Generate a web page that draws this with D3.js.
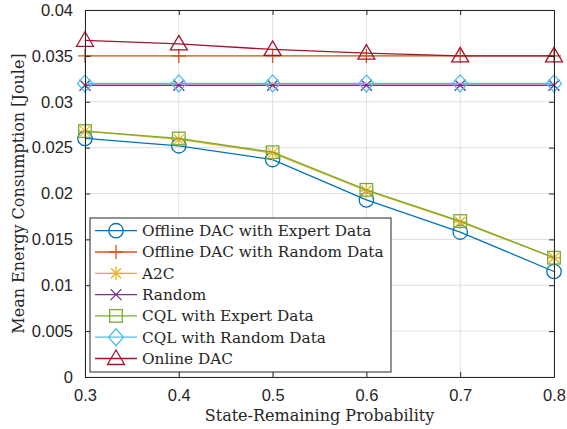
<!DOCTYPE html>
<html>
<head>
<meta charset="utf-8">
<script src="https://cdn.jsdelivr.net/npm/d3@7"></script>
<style>
  html, body { margin: 0; padding: 0; background: #fff; }
  svg { display: block; }
</style>
</head>
<body>
<svg id="chart" width="567" height="429"></svg>
<script>
// State-remaining probability on the x axis
const probs = [0.3, 0.4, 0.5, 0.6, 0.7, 0.8];

// Mean energy consumption (Joule) per method
const offlineDacExpert = [0.0260, 0.0252, 0.0237, 0.0193, 0.0158, 0.0115];
const offlineDacRandom = [0.0350, 0.0350, 0.0350, 0.0350, 0.0350, 0.0350];
const a2c              = [0.0268, 0.0259, 0.0244, 0.0203, 0.0169, 0.0130];
const randomPolicy     = [0.0318, 0.0318, 0.0318, 0.0318, 0.0318, 0.0318];
const cqlExpert        = [0.0268, 0.0260, 0.0245, 0.0204, 0.0170, 0.0130];
const cqlRandom        = [0.0320, 0.0320, 0.0320, 0.0320, 0.0320, 0.0320];
const onlineDac        = [0.0367, 0.0363, 0.0357, 0.0353, 0.0350, 0.0350];

const xTicks = [0.3, 0.4, 0.5, 0.6, 0.7, 0.8];
const yTicks = [0, 0.005, 0.01, 0.015, 0.02, 0.025, 0.03, 0.035, 0.04];

const seriesNames  = ["Offline DAC with Expert Data", "Offline DAC with Random Data", "A2C", "Random",
                      "CQL with Expert Data", "CQL with Random Data", "Online DAC"];
const seriesValues = [offlineDacExpert, offlineDacRandom, a2c, randomPolicy, cqlExpert, cqlRandom, onlineDac];
const seriesColors = ["#0072BD", "#D95319", "#EDB120", "#7E2F8E", "#77AC30", "#4DBEEE", "#A2142F"];
const seriesMarkers = ["circle", "plus", "asterisk", "cross", "square", "diamond", "triangle"];

const svg = d3.select("#chart");
const margin = { left: 85, right: 13, top: 10, bottom: 52 };
const W = 567, H = 429;
const x = d3.scaleLinear().domain([0.3, 0.8]).range([margin.left, W - margin.right]);
const y = d3.scaleLinear().domain([0, 0.04]).range([H - margin.bottom, margin.top]);

const axisColor = "#262626";
const tickFont = "'Liberation Sans', Arial, sans-serif";
const serifFont = "'DejaVu Serif', serif";

// grid
const grid = svg.append("g");
grid.selectAll(".gx").data(xTicks).join("line")
  .attr("x1", d => x(d)).attr("x2", d => x(d))
  .attr("y1", y(0)).attr("y2", y(0.04))
  .attr("stroke", "#dfdfdf").attr("stroke-width", 1);
grid.selectAll(".gy").data(yTicks).join("line")
  .attr("x1", x(0.3)).attr("x2", x(0.8))
  .attr("y1", d => y(d)).attr("y2", d => y(d))
  .attr("stroke", "#dfdfdf").attr("stroke-width", 1);

// axes with inward ticks on all four sides
const tickLen = 5;
const xAxisB = d3.axisBottom(x).tickValues(xTicks).tickFormat(d3.format(".1f")).tickSizeInner(-tickLen).tickSizeOuter(0).tickPadding(12);
const xAxisT = d3.axisTop(x).tickValues(xTicks).tickFormat("").tickSizeInner(-tickLen).tickSizeOuter(0);
const yAxisL = d3.axisLeft(y).tickValues(yTicks).tickFormat(d => d === 0 ? "0" : String(+d.toFixed(3))).tickSizeInner(-tickLen).tickSizeOuter(0).tickPadding(12);
const yAxisR = d3.axisRight(y).tickValues(yTicks).tickFormat("").tickSizeInner(-tickLen).tickSizeOuter(0);

function styleAxis(g) {
  g.select(".domain").attr("stroke", axisColor);
  g.selectAll(".tick line").attr("stroke", axisColor);
  g.selectAll(".tick text").attr("fill", axisColor).attr("font-family", tickFont).attr("font-size", 16.5);
}

// lines and markers
const plot = svg.append("g");
const line = d3.line().x((d, i) => x(probs[i])).y(d => y(d));

function drawMarker(g, type, cx, cy, color) {
  const s = g.append("g").attr("transform", `translate(${cx},${cy})`)
    .attr("fill", "none").attr("stroke", color).attr("stroke-width", 1.3);
  if (type === "circle") {
    s.append("circle").attr("r", 7.2);
  } else if (type === "plus") {
    s.append("path").attr("d", "M-7,0H7M0,-7V7");
  } else if (type === "asterisk") {
    s.append("path").attr("d", "M-7,0H7M0,-7V7M-5,-5L5,5M-5,5L5,-5");
  } else if (type === "cross") {
    s.append("path").attr("d", "M-5.5,-5.5L5.5,5.5M-5.5,5.5L5.5,-5.5");
  } else if (type === "square") {
    s.append("rect").attr("x", -6.3).attr("y", -6.3).attr("width", 12.6).attr("height", 12.6);
  } else if (type === "diamond") {
    s.append("path").attr("d", "M0,-8.5L7.5,0L0,8.5L-7.5,0Z");
  } else if (type === "triangle") {
    s.append("path").attr("d", "M0,-8.5L8.5,6L-8.5,6Z");
  }
}

seriesValues.forEach((vals, k) => {
  plot.append("path").datum(vals)
    .attr("d", line).attr("fill", "none")
    .attr("stroke", seriesColors[k]).attr("stroke-width", 1.3);
  vals.forEach((v, i) => drawMarker(plot, seriesMarkers[k], x(probs[i]), y(v), seriesColors[k]));
});

svg.append("g").attr("transform", `translate(0,${y(0)})`).call(xAxisB).call(styleAxis);
svg.append("g").attr("transform", `translate(0,${y(0.04)})`).call(xAxisT).call(styleAxis);
svg.append("g").attr("transform", `translate(${x(0.3)},0)`).call(yAxisL).call(styleAxis);
svg.append("g").attr("transform", `translate(${x(0.8)},0)`).call(yAxisR).call(styleAxis);

// axis titles
svg.append("text")
  .attr("x", (x(0.3) + x(0.8)) / 2).attr("y", 421)
  .attr("text-anchor", "middle").attr("font-family", serifFont).attr("font-size", 16)
  .attr("fill", axisColor).text("State-Remaining Probability");
svg.append("text")
  .attr("transform", `translate(24,${(y(0) + y(0.04)) / 2}) rotate(-90)`)
  .attr("text-anchor", "middle").attr("font-family", serifFont).attr("font-size", 16)
  .attr("fill", axisColor).text("Mean Energy Consumption [Joule]");

// legend
const legend = svg.append("g");
const lgX = 90, lgY = 218, lgW = 301, lgH = 154, rowH = 21.3, firstRow = 230.7;
legend.append("rect").attr("x", lgX).attr("y", lgY).attr("width", lgW).attr("height", lgH)
  .attr("fill", "#fff").attr("stroke", axisColor).attr("stroke-width", 1);
seriesNames.forEach((name, k) => {
  const cy = firstRow + k * rowH;
  legend.append("line").attr("x1", 95).attr("x2", 137).attr("y1", cy).attr("y2", cy)
    .attr("stroke", seriesColors[k]).attr("stroke-width", 1.3);
  drawMarker(legend, seriesMarkers[k], 116, cy, seriesColors[k]);
  legend.append("text").attr("x", 142).attr("y", cy).attr("dy", "0.35em")
    .attr("font-family", serifFont).attr("font-size", 15.3).attr("fill", axisColor).text(name);
});
</script>
</body>
</html>
